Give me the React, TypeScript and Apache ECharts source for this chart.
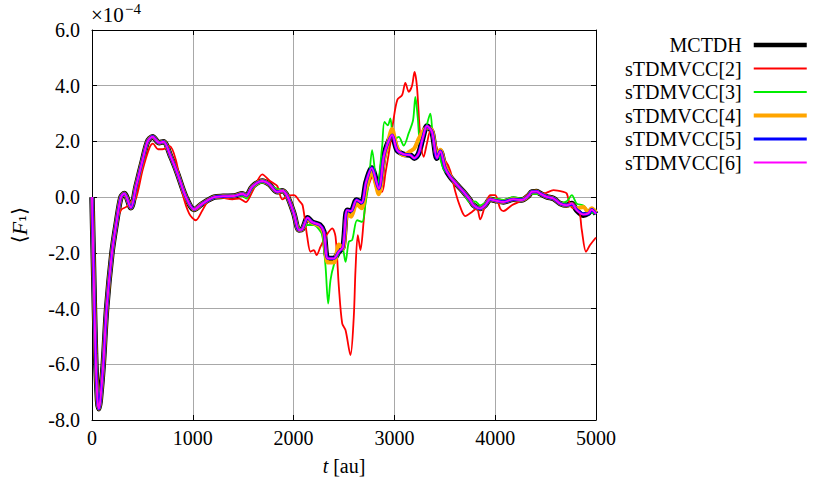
import React, { useEffect, useRef } from "react";
import * as echarts from "echarts";

// values in units of 1e-4
const tMain = [0,15,35,55,68,82,112,145,198,245,287,320,386,436,502,551,601,667,709,782,848,931,1013,1096,1211,1300,1409,1492,1530,1591,1690,1756,1838,1888,1937,2003,2053,2086,2140,2185,2260,2300,2340,2399,2450,2490,2531,2570,2625,2675,2720,2775,2845,2894,2927,2977,3026,3092,3158,3198,3241,3280,3323,3373,3422,3455,3505,3554,3620,3686,3750,3785,3851,3901,3950,4000,4082,4181,4264,4330,4363,4413,4446,4512,4578,4644,4710,4760,4809,4875,4924,4957,5000];
const vMctdh = [0,-2.5,-5.6,-7.3,-7.6,-7.3,-6,-4,-2,-0.85,0,0.13,-0.38,0.37,1.33,1.99,2.17,1.95,1.99,1.45,0.85,0.01,-0.44,-0.23,0,0.03,0.04,0.12,0.05,0.38,0.58,0.47,0.19,0.23,0.04,-0.59,-1.18,-1.15,-0.74,-0.9,-1.0,-1.24,-2.2,-2.2,-1.95,-1.8,-0.47,-0.5,-0.1,-0.2,0.55,1.05,0.3,1.45,1.87,2.23,1.69,1.54,1.51,1.4,1.57,2.1,2.55,2.34,1.4,1.65,1.03,0.73,0.45,0.19,-0.1,-0.29,-0.41,-0.29,-0.08,-0.12,-0.17,-0.08,-0.1,0.05,0.19,0.2,0.13,0.01,-0.05,-0.23,-0.29,-0.23,-0.47,-0.65,-0.58,-0.45,-0.6];
const vS4 = [0,-2.5,-5.6,-7.3,-7.6,-7.3,-6,-4,-2,-0.85,0,0.13,-0.38,0.37,1.33,1.99,2.17,1.95,1.99,1.45,0.85,0.01,-0.44,-0.23,0,0.03,0.04,0.12,0.05,0.38,0.58,0.47,0.19,0.23,0.04,-0.59,-1.18,-1.15,-0.78,-0.92,-1.05,-1.3,-2.35,-2.35,-1.7,-1.85,-0.6,-0.7,-0.25,-0.4,0.3,0.9,0.1,1.3,1.8,2.45,1.8,1.5,1.65,1.75,2.1,2.35,2.5,2.4,1.5,1.7,1.1,0.75,0.45,0.19,-0.1,-0.29,-0.41,-0.29,-0.08,-0.12,-0.17,-0.08,-0.1,0.05,0.19,0.2,0.13,0.01,-0.05,-0.23,-0.3,-0.25,-0.4,-0.35,-0.55,-0.4,-0.55];
const vS5 = [0,-2.5,-5.6,-7.3,-7.6,-7.3,-6,-4,-2,-0.85,0,0.13,-0.38,0.37,1.33,1.99,2.17,1.95,1.99,1.45,0.85,0.01,-0.44,-0.23,0,0.03,0.04,0.12,0.05,0.38,0.58,0.47,0.19,0.23,0.04,-0.59,-1.18,-1.15,-0.74,-0.9,-1.0,-1.24,-2.2,-2.2,-1.95,-1.8,-0.47,-0.5,-0.1,-0.2,0.55,1.05,0.3,1.45,1.87,2.23,1.69,1.54,1.51,1.4,1.57,2.1,2.55,2.34,1.4,1.65,1.03,0.73,0.45,0.19,-0.1,-0.29,-0.41,-0.29,-0.08,-0.12,-0.17,-0.08,-0.1,0.05,0.19,0.2,0.13,0.01,-0.05,-0.23,-0.29,-0.25,-0.45,-0.6,-0.6,-0.45,-0.6];
const vS6 = [0,-2.5,-5.6,-7.3,-7.6,-7.3,-6,-4,-2,-0.85,0,0.13,-0.38,0.37,1.33,1.99,2.17,1.95,1.99,1.45,0.85,0.01,-0.44,-0.23,0,0.03,0.04,0.12,0.05,0.38,0.58,0.47,0.19,0.23,0.04,-0.59,-1.18,-1.15,-0.74,-0.9,-1.0,-1.24,-2.2,-2.2,-1.95,-1.8,-0.47,-0.5,-0.1,-0.2,0.55,1.05,0.3,1.45,1.87,2.23,1.69,1.54,1.51,1.4,1.57,2.1,2.55,2.34,1.4,1.65,1.03,0.73,0.45,0.19,-0.1,-0.29,-0.41,-0.29,-0.08,-0.12,-0.17,-0.08,-0.1,0.05,0.19,0.2,0.13,0.01,-0.05,-0.23,-0.29,-0.23,-0.47,-0.62,-0.58,-0.45,-0.6];

const tRed = [0,15,35,55,68,82,112,145,198,240,290,340,390,436,502,568,605,655,700,770,832,898,964,1030,1096,1161,1260,1393,1460,1525,1591,1690,1760,1800,1838,1888,1940,2003,2060,2090,2135,2168,2201,2228,2267,2317,2383,2416,2449,2482,2515,2564,2597,2614,2637,2663,2696,2723,2762,2795,2845,2878,2911,2960,2993,3030,3076,3109,3142,3175,3200,3224,3257,3290,3323,3356,3406,3455,3505,3554,3604,3653,3703,3769,3818,3851,3901,3950,4000,4050,4082,4165,4248,4347,4479,4578,4677,4710,4743,4776,4826,4859,4901,4941,5000];
const vRed = [0,-2.5,-5.6,-7.3,-7.6,-7.3,-6,-4,-2,-0.9,-0.45,-0.35,-0.15,-0.05,0.97,1.75,1.92,1.72,1.72,1.83,1.33,0.13,-0.59,-0.83,-0.47,-0.1,0,-0.08,-0.05,-0.18,0.2,0.82,0.6,0.5,0.4,-0.08,0.04,0.07,-0.15,-0.3,-1.42,-1.96,-1.9,-2.08,-1.78,-1.42,-1.12,-1.42,-3.22,-4.53,-4.77,-5.67,-4.3,-2.62,-1.36,-1.9,-0.83,0.13,0.61,0.85,0.19,0.19,0.85,1.93,2.83,3.5,3.66,4.1,3.78,4.0,4.5,3.96,2.16,1.45,1.93,2.38,1.93,1.4,1.3,0.95,0.2,-0.35,-0.68,-0.53,-0.4,-0.8,-0.29,0.07,0.07,-0.41,-0.5,-0.29,-0.15,0.13,0.13,0.25,0.19,0.13,-0.29,-0.4,-0.41,-1.18,-1.96,-1.72,-1.45];

const tGreen = [0,15,35,55,68,82,112,145,198,245,287,320,386,436,502,551,601,667,709,782,848,931,1013,1096,1211,1300,1409,1492,1530,1591,1690,1756,1838,1890,1937,2003,2053,2086,2135,2201,2250,2284,2317,2343,2366,2399,2449,2482,2515,2548,2581,2630,2680,2713,2745,2779,2829,2878,2901,2934,2960,2993,3043,3092,3142,3185,3208,3231,3257,3307,3356,3389,3439,3489,3554,3620,3686,3750,3800,3851,3901,3950,4000,4082,4181,4264,4363,4446,4512,4578,4644,4710,4760,4809,4875,4924,5000];
const vGreen = [0,-2.5,-5.6,-7.3,-7.6,-7.3,-6,-4,-2,-0.85,0,0.13,-0.38,0.37,1.33,1.99,2.17,1.95,1.99,1.45,0.85,0.01,-0.44,-0.23,0,0.03,0.04,0.05,-0.05,0.3,0.52,0.45,0.3,0.25,0.1,-0.55,-1.1,-1.15,-1.0,-1.0,-1.15,-1.36,-2.5,-3.82,-2.98,-2.44,-2.02,-1.78,-2.32,-1.6,-1.54,-0.83,-0.89,-0.23,0.5,1.69,0.37,1.81,2.7,2.58,2.83,2.05,2.16,1.85,2.3,2.76,3.6,2.88,1.95,2.4,3.0,1.93,1.57,1.0,0.75,0.45,0.15,-0.2,-0.15,-0.3,-0.2,-0.05,-0.05,-0.1,0.0,-0.05,0.12,0.1,0.03,-0.05,-0.2,-0.15,0.07,-0.23,-0.3,-0.5,-0.6];

const seriesNames = ["MCTDH", "sTDMVCC[2]", "sTDMVCC[3]", "sTDMVCC[4]", "sTDMVCC[5]", "sTDMVCC[6]"];
const yTicks = { min: -8, max: 6, interval: 2 };
const xTicks = { min: 0, max: 5000, interval: 1000 };

const FONT = "Liberation Serif";

const pairs = (t: number[], v: number[]) => t.map((x, i) => [x, v[i]]);

export default function App() {
  const ref = useRef<HTMLDivElement>(null);
  useEffect(() => {
    if (!ref.current) return;
    const chart = echarts.init(ref.current, undefined, { renderer: "svg" });
    const styles = [
      { color: "#000000", width: 5.5 },
      { color: "#ff0000", width: 1.8 },
      { color: "#00ee00", width: 1.8 },
      { color: "#ffa500", width: 4 },
      { color: "#0000ff", width: 3.2 },
      { color: "#ff00ff", width: 2 },
    ];
    const legendWidths = [4.5, 2, 2, 4, 3, 2];
    const datas = [
      pairs(tMain, vMctdh),
      pairs(tRed, vRed),
      pairs(tGreen, vGreen),
      pairs(tMain, vS4),
      pairs(tMain, vS5),
      pairs(tMain, vS6),
    ];
    const axisLine = { show: true, onZero: false, lineStyle: { color: "#000", width: 1 } };
    const tick = { show: true, inside: true, length: 5, lineStyle: { color: "#000" } };
    chart.setOption({
      animation: false,
      backgroundColor: "#fff",
      grid: { left: 91, right: 234, top: 30, bottom: 65 },
      title: [
        {
          text: "×10",
          left: 91,
          top: 4,
          padding: 0,
          textStyle: { fontFamily: FONT, fontSize: 21, fontWeight: "normal", color: "#000" },
        },
        {
          text: "−4",
          left: 125,
          top: 1,
          padding: 0,
          textStyle: { fontFamily: FONT, fontSize: 15, fontWeight: "normal", color: "#000" },
        },
      ],
      legend: {
        data: seriesNames.map((name, i) => ({
          name,
          lineStyle: { width: legendWidths[i], color: styles[i].color },
          itemStyle: { opacity: 0 },
        })),
        orient: "vertical",
        right: 21,
        top: 35,
        padding: 0,
        align: "right",
        itemWidth: 53,
        itemHeight: 14,
        itemGap: 3.5,
        itemStyle: { opacity: 0 },
        textStyle: {
          fontFamily: FONT,
          fontSize: 20,
          lineHeight: 20,
          color: "#000",
          padding: [0, 7, 0, 0],
        },
      },
      xAxis: [
        {
          type: "value",
          min: xTicks.min,
          max: xTicks.max,
          interval: xTicks.interval,
          name: "{i|t} [au]",
          nameLocation: "middle",
          nameGap: 36,
          nameTextStyle: {
            fontFamily: FONT,
            fontSize: 20,
            color: "#000",
            rich: { i: { fontFamily: FONT, fontSize: 20, fontStyle: "italic", color: "#000" } },
          },
          axisLine,
          axisTick: tick,
          axisLabel: {
            fontFamily: FONT,
            fontSize: 20,
            color: "#000",
            margin: 8,
            formatter: (v: number) => String(v),
          },
          splitLine: { show: true, lineStyle: { color: "#a8a8a8", width: 1 } },
        },
        {
          type: "value",
          position: "top",
          min: xTicks.min,
          max: xTicks.max,
          interval: xTicks.interval,
          axisLine,
          axisTick: tick,
          axisLabel: { show: false },
          splitLine: { show: false },
        },
      ],
      yAxis: [
        {
          type: "value",
          min: yTicks.min,
          max: yTicks.max,
          interval: yTicks.interval,
          name: "{p|⟨}{f|F}{s|₁}{p|⟩}",
          nameLocation: "middle",
          nameRotate: 90,
          nameGap: 62,
          nameTextStyle: {
            color: "#000",
            rich: {
              p: { fontFamily: "DejaVu Serif", fontSize: 20, color: "#000" },
              f: { fontFamily: FONT, fontSize: 22, fontStyle: "italic", color: "#000" },
              s: { fontFamily: "DejaVu Serif", fontSize: 18, color: "#000" },
            },
          },
          axisLine,
          axisTick: tick,
          axisLabel: {
            fontFamily: FONT,
            fontSize: 20,
            color: "#000",
            margin: 12,
            formatter: (v: number) => v.toFixed(1),
          },
          splitLine: { show: true, lineStyle: { color: "#a8a8a8", width: 1 } },
        },
        {
          type: "value",
          position: "right",
          min: yTicks.min,
          max: yTicks.max,
          interval: yTicks.interval,
          axisLine,
          axisTick: tick,
          axisLabel: { show: false },
          splitLine: { show: false },
        },
      ],
      series: seriesNames.map((name, i) => ({
        name,
        type: "line",
        data: datas[i],
        symbol: "none",
        showSymbol: false,
        smooth: 0.3,
        lineStyle: { color: styles[i].color, width: styles[i].width },
        itemStyle: { color: styles[i].color },
        z: 2 + i,
      })),
    });
    return () => chart.dispose();
  }, []);
  return (
    <div
      ref={ref}
      style={{ position: "absolute", left: 0, top: 0, width: 830, height: 485, background: "#fff" }}
    />
  );
}
